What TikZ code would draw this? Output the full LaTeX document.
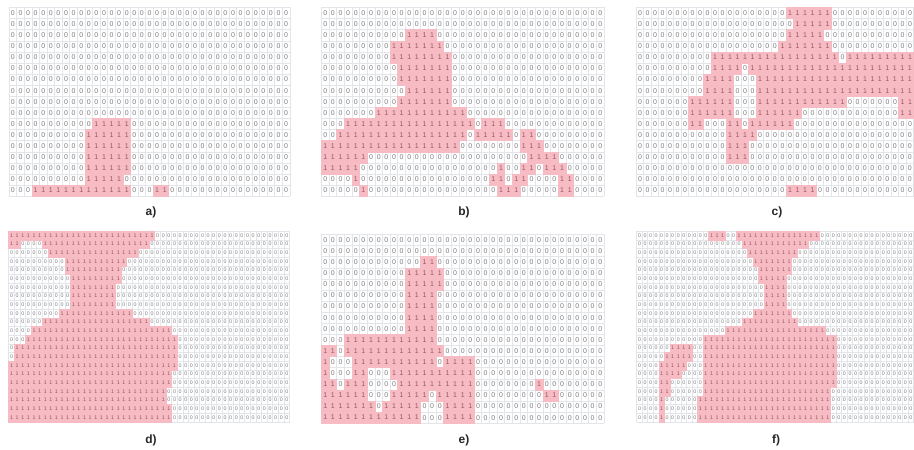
\documentclass[tikz,border=0pt]{standalone}
\usepackage{fontspec}
\setmainfont{Liberation Sans}
\definecolor{pinkcell}{RGB}{247,187,196}
\definecolor{zerocol}{RGB}{125,125,125}
\definecolor{onecol}{RGB}{150,85,95}
\definecolor{gridcol}{RGB}{226,229,234}
\newcommand\digbig{\fontsize{7}{8}\selectfont}
\newcommand\digsmall{\fontsize{5.3}{6}\selectfont}
\newcount\digcnt
% #1 how many, #2 cell width in bp, #3 digit
\newcommand\digitrun[3]{\digcnt=0 \loop\ifnum\digcnt<#1 \makebox[#2bp]{#3}\advance\digcnt by 1 \repeat}
\tikzset{
  gridline/.style={draw=gridcol, line width=0.3bp},
  zerodigit/.style={inner sep=0pt, anchor=west, text=zerocol},
  onedigit/.style={inner sep=0pt, anchor=west, text=onecol},
  pinkfill/.style={fill=pinkcell, draw=pinkcell, line width=0.3bp},
  caption/.style={font=\fontsize{12}{14}\selectfont\bfseries, text=black!85}
}
% zeros of row #1 from column #2 to column #3 (nothing if #2 > #3)
\newcommand\zerorun[3]{%
  \ifnum#2>#3\relax\else
    \pgfmathtruncatemacro\zlen{#3-#2+1}%
    \node[zerodigit, font=\curfont] at (#2,#1+0.5) {\digitrun{\zlen}{\curpitch}{0}};%
  \fi}
% zeros of whole rows #1 to #2
\newcommand\zerorows[2]{%
  \ifnum#1>#2\relax\else
    \foreach \k in {#1,...,#2} {\zerorun{\k}{0}{\lastc}}%
  \fi}
% #1 x0, #2 y0, #3 col pitch, #4 row pitch, #5 cols, #6 rows, #7 font, #8 ranges row/from/to (sorted)
\newcommand\gridpanel[8]{%
  \begin{scope}[shift={(#1,#2)}, xscale=#3, yscale=#4]
    \def\curfont{#7}\def\curpitch{#3}%
    \pgfmathtruncatemacro\lastc{#5-1}%
    \pgfmathtruncatemacro\lastr{#6-1}%
    \draw[gridline] \foreach \c in {0,...,#5} {(\c,0) -- (\c,#6)};
    \draw[gridline] \foreach \r in {0,...,#6} {(0,\r) -- (#5,\r)};
    \xdef\currow{-1}\xdef\nextcol{0}%
    \foreach \r/\a/\b in {#8} {
      \ifnum\r=\currow\relax\else
        \ifnum\currow>-1 \zerorun{\currow}{\nextcol}{\lastc}\fi
        \pgfmathtruncatemacro\fromr{\currow+1}%
        \pgfmathtruncatemacro\tor{\r-1}%
        \zerorows{\fromr}{\tor}%
        \xdef\currow{\r}\xdef\nextcol{0}%
      \fi
      \pgfmathtruncatemacro\gapend{\a-1}%
      \zerorun{\r}{\nextcol}{\gapend}%
      \pgfmathtruncatemacro\runlen{\b-\a+1}%
      \fill[pinkfill] (\a,\r) rectangle (\b+1,\r+1);
      \node[onedigit, font=#7] at (\a,\r+0.5) {\digitrun{\runlen}{#3}{1}};
      \pgfmathtruncatemacro\nc{\b+1}%
      \xdef\nextcol{\nc}%
    }
    \zerorun{\currow}{\nextcol}{\lastc}%
    \pgfmathtruncatemacro\fromr{\currow+1}%
    \zerorows{\fromr}{\lastr}%
  \end{scope}}
\begin{document}
\begin{tikzpicture}[x=1bp, y=-1bp]
\useasboundingbox (0,0) rectangle (914,450);
\clip (0,0) rectangle (914,450);
\fill[white] (0,0) rectangle (914,450);
% panel a
\gridpanel{8.9}{7.45}{7.59}{11.1}{37}{17}{\digbig}{%
10/11/15, 11/10/15, 12/10/15, 13/10/15, 14/10/15, 15/10/14, 16/3/15, 16/19/20}
% panel b
\gridpanel{321.2}{7.45}{7.64}{11.1}{37}{17}{\digbig}{%
2/11/14, 3/9/15, 4/9/16, 5/10/16, 6/10/16, 7/11/16, 8/10/16, 9/7/18,
10/3/19, 10/21/23, 11/2/18, 11/20/24, 11/26/27, 12/0/17, 12/26/28,
13/0/5, 13/27/30, 14/0/4, 14/23/23, 14/26/27, 14/29/31,
15/4/4, 15/22/23, 15/25/26, 15/31/32, 16/5/5, 16/23/25, 16/31/32}
% panel c
\gridpanel{636}{7.45}{7.5}{11.1}{37}{17}{\digbig}{%
0/20/25, 1/21/25, 2/20/24, 3/19/25, 4/10/26, 4/28/36, 5/10/13, 5/15/36,
6/9/12, 6/16/36, 7/9/12, 7/16/36, 8/7/12, 8/16/27, 8/35/36,
9/7/12, 9/16/21, 9/35/36, 10/7/8, 10/12/13, 10/15/20,
11/12/15, 12/12/14, 13/12/14, 16/20/23}
% panel d
\gridpanel{8.5}{231}{5.62}{8.67}{50}{22}{\digsmall}{%
0/0/25, 1/0/1, 1/6/24, 2/7/22, 3/10/20, 4/10/19, 5/11/19, 6/11/18, 7/11/18,
8/11/18, 9/9/21, 10/6/24, 11/4/28, 12/3/29, 13/1/29, 14/1/29, 15/0/29,
16/0/28, 17/0/28, 18/0/27, 19/0/27, 20/0/28, 21/0/28}
% panel e
\gridpanel{321.2}{234.45}{7.64}{11.1}{37}{17}{\digbig}{%
2/13/14, 3/11/15, 4/11/15, 5/11/14, 6/11/14, 7/11/14, 8/11/14, 9/3/14,
10/0/1, 10/3/15, 11/0/0, 11/4/14, 11/16/19, 12/0/0, 12/4/5, 12/9/19,
13/0/1, 13/3/5, 13/10/19, 13/28/28, 14/0/5, 14/9/13, 14/15/19, 14/29/30,
15/0/6, 15/8/12, 15/16/19, 16/0/12, 16/16/19}
% panel f
\gridpanel{636.5}{231}{5.54}{8.67}{50}{22}{\digsmall}{%
0/13/15, 0/18/32, 1/19/30, 2/20/28, 3/21/27, 4/22/27, 5/22/26, 6/23/26,
7/23/26, 8/23/26, 9/21/27, 10/19/28, 11/16/33, 12/12/35,
13/6/9, 13/12/35, 14/5/9, 14/12/35, 15/4/8, 15/12/35, 16/4/7, 16/12/35,
17/4/5, 17/12/35, 18/4/5, 18/12/34, 19/4/4, 19/11/34, 20/4/4, 20/11/34,
21/4/4, 21/11/34}
% captions
\node[caption] (la) at (151,212) {a)};
\node[caption] (lb) at (464,212) {b)};
\node[caption] (lc) at (777,212) {c)};
\node[caption] (ld) at (151,440) {d)};
\node[caption] (le) at (464,440) {e)};
\node[caption] (lf) at (776,440) {f)};
\end{tikzpicture}
\end{document}
